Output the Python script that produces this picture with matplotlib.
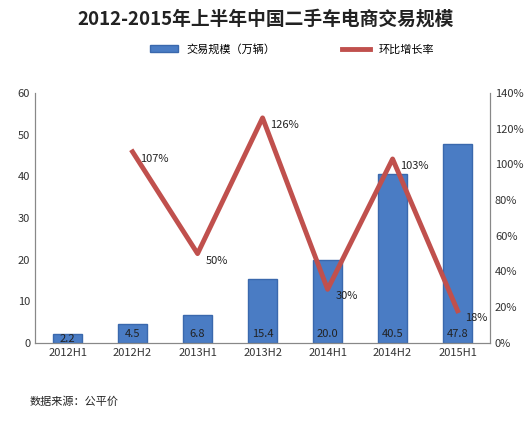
import matplotlib
matplotlib.use('Agg')
import matplotlib.pyplot as plt
import numpy as np

plt.rcParams['font.family'] = ['Noto Sans CJK SC', 'DejaVu Sans']

periods = ['2012H1', '2012H2', '2013H1', '2013H2', '2014H1', '2014H2', '2015H1']
volume = [2.2, 4.5, 6.8, 15.4, 20.0, 40.5, 47.8]
growth = [None, 107, 50, 126, 30, 103, 18]

fig = plt.figure(figsize=(5.31, 4.26), dpi=100)
ax = fig.add_axes([0.066, 0.195, 0.857, 0.587])
ax2 = ax.twinx()

x = np.arange(len(periods))
bars = ax.bar(x, volume, width=0.45, color='#4a7cc4', edgecolor='#3a68ad', zorder=2,
              label='交易规模（万辆）')
# value labels sit near the bottom of each bar
for xi, v in zip(x, volume):
    ax.text(xi, 2.2 if v > 4 else v * 0.45, f'{v:.1f}', ha='center', va='center',
            fontsize=8, color='#222222', zorder=3)

gx = [xi for xi, g in zip(x, growth) if g is not None]
gy = [g for g in growth if g is not None]
line, = ax2.plot(gx, gy, color='#c0504d', lw=3.5, zorder=4, label='环比增长率')
for xi, g in zip(gx, gy):
    ax2.text(xi + 0.12, g - 4, f'{g}%', fontsize=8, color='#222222', ha='left', va='center')

ax.set_ylim(0, 60)
ax.set_yticks(range(0, 61, 10))
ax2.set_ylim(0, 140)
ax2.set_yticks(range(0, 141, 20))
ax2.set_yticklabels([f'{t}%' for t in range(0, 141, 20)])
ax.set_xlim(-0.5, len(periods) - 0.5)
ax.set_xticks(x)
ax.set_xticklabels(periods)
for a in (ax, ax2):
    a.tick_params(labelsize=8, length=0, colors='#333333')
    a.spines['top'].set_visible(False)
    for s in ('left', 'right', 'bottom'):
        a.spines[s].set_color('#888888')

fig.text(0.5, 0.955, '2012-2015年上半年中国二手车电商交易规模', ha='center', va='center',
         fontsize=13.5, fontweight='bold', color='#222222')
fig.legend(handles=[bars, line], loc='center', bbox_to_anchor=(0.55, 0.885), ncol=2,
           frameon=False, fontsize=8, columnspacing=6, handlelength=2.5)
fig.text(0.055, 0.05, '数据来源：公平价', fontsize=8, color='#222222')

fig.savefig('out.png', dpi=100)
